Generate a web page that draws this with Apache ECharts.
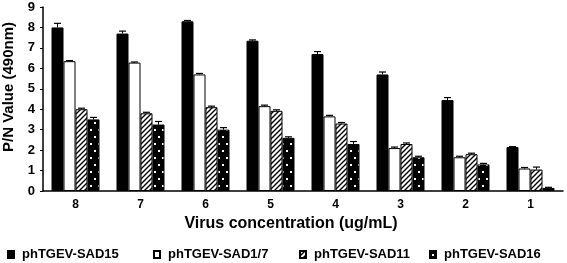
<!DOCTYPE html>
<html><head><meta charset="utf-8">
<script src="https://cdn.jsdelivr.net/npm/echarts@6/dist/echarts.min.js"></script>
<style>html,body{margin:0;padding:0;background:#fff}#c{width:567px;height:263px}</style>
</head><body><div id="c"></div>
<script>
const categories = ['8','7','6','5','4','3','2','1'];
const seriesNames = ['phTGEV-SAD15','phTGEV-SAD1/7','phTGEV-SAD11','phTGEV-SAD16'];
const sad15 = [8.0, 7.7, 8.3, 7.35, 6.7, 5.7, 4.45, 2.15];
const sad17 = [6.35, 6.28, 5.7, 4.15, 3.65, 2.1, 1.65, 1.1];
const sad11 = [4.0, 3.8, 4.1, 3.92, 3.3, 2.3, 1.8, 1.05];
const sad16 = [3.5, 3.25, 3.0, 2.6, 2.3, 1.65, 1.3, 0.15];
const err15 = [0.2, 0.12, 0.04, 0.04, 0.12, 0.12, 0.12, 0.02];
const err17 = [0.03, 0.03, 0.05, 0.05, 0.05, 0.05, 0.05, 0.05];
const err11 = [0.05, 0.05, 0.05, 0.05, 0.05, 0.05, 0.05, 0.12];
const err16 = [0.1, 0.15, 0.1, 0.05, 0.12, 0.05, 0.05, 0.03];
const yTicks = [0,1,2,3,4,5,6,7,8,9];

const FONT = "'Liberation Sans', Arial, sans-serif";
function hatch(){
  const c = document.createElement('canvas'); c.width = 5; c.height = 5;
  const g = c.getContext('2d');
  g.fillStyle = '#fff'; g.fillRect(0,0,5,5);
  g.strokeStyle = '#000'; g.lineWidth = 1.4;
  g.beginPath();
  g.moveTo(-1,6); g.lineTo(6,-1);
  g.moveTo(-1,1); g.lineTo(1,-1);
  g.moveTo(4,6); g.lineTo(6,4);
  g.stroke();
  return c;
}
function dots(){
  const c = document.createElement('canvas'); c.width = 8; c.height = 14;
  const g = c.getContext('2d');
  g.fillStyle = '#000'; g.fillRect(0,0,8,14);
  g.fillStyle = '#fff';
  g.fillRect(2,3,2,2);
  g.fillRect(6,10,2,2);
  return c;
}
const values = [sad15, sad17, sad11, sad16];
const errs = [err15, err17, err11, err16];
const colors = ['#000', '#fff', {image: hatch(), repeat: 'repeat'}, {image: dots(), repeat: 'repeat'}];
const BW = 12;

const errData = [];
values.forEach((arr, s) => arr.forEach((v, i) => errData.push([i, s, v, errs[s][i]])));

const series = values.map((arr, s) => ({
  type: 'bar', name: seriesNames[s], data: arr, barWidth: BW, barGap: '0%',
  itemStyle: {color: colors[s], borderColor: '#000', borderWidth: 1},
  z: 2
}));
series.push({
  type: 'custom', data: errData, z: 3, silent: true,
  renderItem: function(params, api){
    const i = api.value(0), s = api.value(1), v = api.value(2), e = api.value(3);
    const p0 = api.coord([i, v]);
    const p1 = api.coord([i, v + e]);
    const x = p0[0] + (s - 1.5) * BW;
    return {type: 'group', children: [
      {type: 'line', shape: {x1: x, y1: p0[1], x2: x, y2: p1[1]}, style: {stroke: '#000', lineWidth: 1}},
      {type: 'line', shape: {x1: x - 3.5, y1: p1[1], x2: x + 3.5, y2: p1[1]}, style: {stroke: '#000', lineWidth: 1.2}}
    ]};
  }
});

const legendPos = [2, 148, 294, 424];
const legends = seriesNames.map((n, k) => ({
  data: [n], left: legendPos[k], top: 243, icon: 'rect', itemWidth: 6, itemHeight: 7,
  textStyle: {fontFamily: FONT, fontWeight: 'bold', fontSize: 13, color: '#000', padding: [0,0,0,3]}
}));

const chart = echarts.init(document.getElementById('c'), null, {renderer: 'canvas'});
chart.setOption({
  animation: false,
  backgroundColor: '#fff',
  legend: legends,
  grid: {left: 43, right: 4, top: 7, bottom: 72, containLabel: false, outerBoundsMode: 'none'},
  xAxis: {
    type: 'category', data: categories,
    name: 'Virus concentration (ug/mL)', nameLocation: 'middle', nameGap: 19,
    nameTextStyle: {fontFamily: FONT, fontWeight: 'bold', fontSize: 16, color: '#000', padding: [0, 24, 0, 0]},
    axisLine: {lineStyle: {color: '#000', width: 1.5}},
    axisTick: {inside: true, length: 4, lineStyle: {color: '#000'}},
    axisLabel: {fontFamily: FONT, fontWeight: 'bold', fontSize: 12, color: '#000', margin: 8}
  },
  yAxis: {
    type: 'value', min: 0, max: 9, interval: 1,
    name: 'P/N Value (490nm)', nameLocation: 'middle', nameGap: 27, nameRotate: 90,
    nameTextStyle: {fontFamily: FONT, fontWeight: 'bold', fontSize: 15, color: '#000', padding: [0, 0, 0, 24]},
    axisLine: {show: true, lineStyle: {color: '#000', width: 1.5}},
    axisTick: {show: true, length: 3, lineStyle: {color: '#000'}},
    splitLine: {show: false},
    axisLabel: {fontFamily: FONT, fontWeight: 'bold', fontSize: 13, color: '#000', margin: 8,
      formatter: v => yTicks.includes(v) ? String(v) : ''}
  },
  series: series
});
</script></body></html>
